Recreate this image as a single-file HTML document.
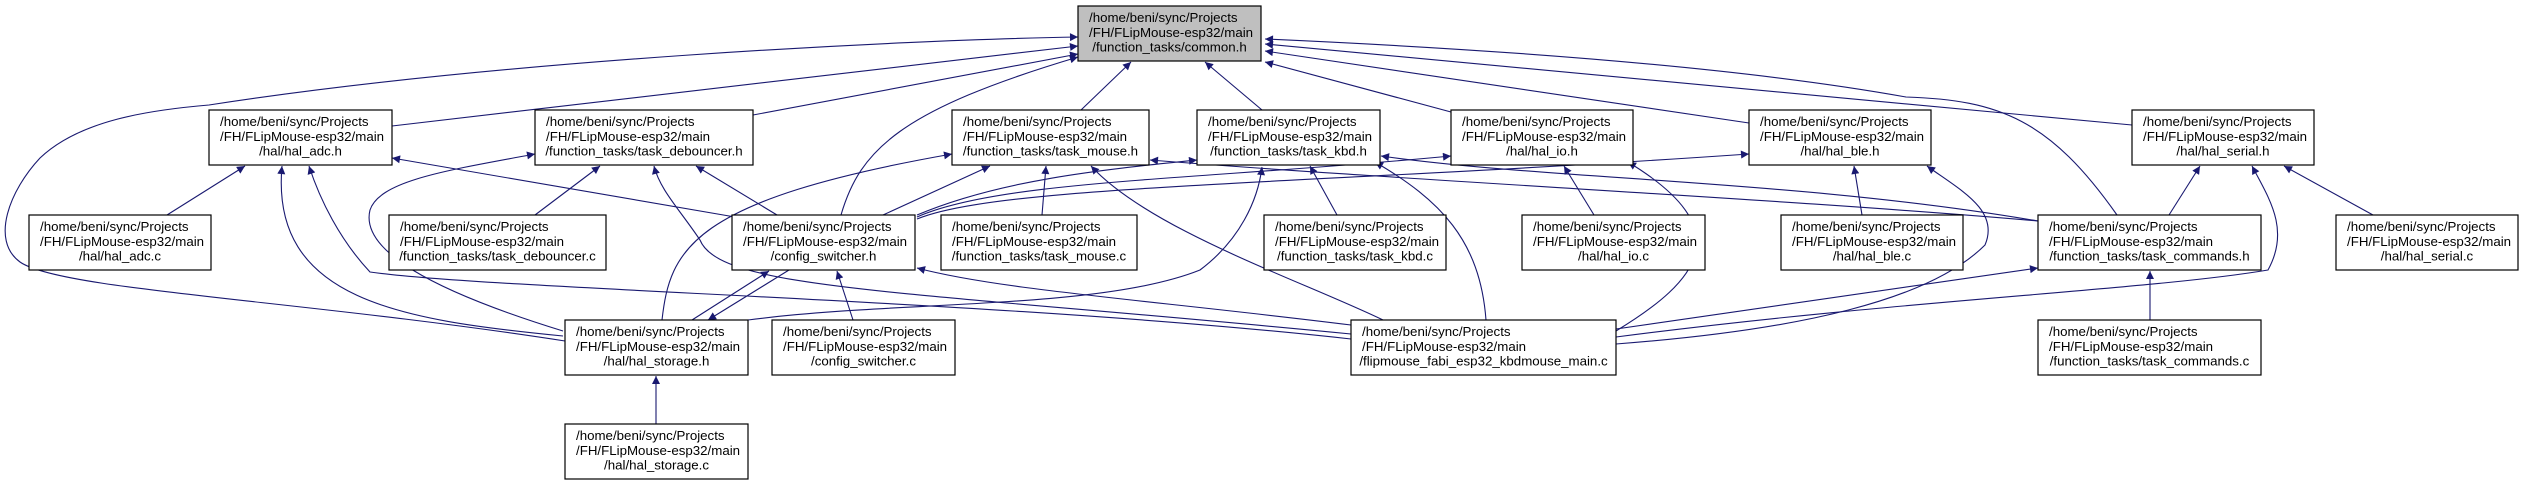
<!DOCTYPE html>
<html><head><meta charset="utf-8"><style>
html,body{margin:0;padding:0;background:#fff;}
svg{display:block;}
text{font-family:"Liberation Sans",sans-serif;font-size:13.3px;fill:#000;}
.e{fill:none;stroke:#191970;stroke-width:1.1;marker-end:url(#a);}
.b{fill:#fff;stroke:#000;stroke-width:1.2;}
</style></head><body>
<svg width="2524" height="483" viewBox="0 0 2524 483" xmlns="http://www.w3.org/2000/svg">
<defs><marker id="a" viewBox="0 0 10 10" refX="10" refY="5" markerWidth="10" markerHeight="8" markerUnits="userSpaceOnUse" orient="auto"><path d="M0,0 L10,5 L0,10 z" fill="#191970"/></marker></defs>

<!-- edges to common.h -->
<path class="e" d="M565,341 C300,300 60,290 20,262 C-10,240 10,190 40,158 C80,120 150,110 209,105 C500,60 900,40 1078,37"/>
<path class="e" d="M392,126 L1078,46"/>
<path class="e" d="M753,115 L1078,54"/>
<path class="e" d="M841,215 C860,150 900,110 1078,57"/>
<path class="e" d="M1081,110 L1131,62"/>
<path class="e" d="M1262,110 L1205,62"/>
<path class="e" d="M1451,112 L1265,62"/>
<path class="e" d="M1749,123 L1265,51"/>
<path class="e" d="M2132,125 L1265,44"/>
<path class="e" d="M2117,215 C2050,120 2000,100 1906,97 C1700,60 1400,45 1265,39"/>

<!-- hal_adc.h -->
<path class="e" d="M167,215 L245,166"/>
<path class="e" d="M563,336 C400,320 270,300 282,166"/>
<path class="e" d="M1351,339 C1000,300 500,290 370,272 C340,240 320,200 309,166"/>
<path class="e" d="M735,217 L392,158"/>

<!-- task_debouncer.h -->
<path class="e" d="M535,215 L600,166"/>
<path class="e" d="M563,331 C430,290 360,250 370,210 C380,180 450,170 535,154"/>
<path class="e" d="M1351,334 C900,290 720,290 700,240 C680,210 660,190 654,166"/>
<path class="e" d="M777,215 L696,166"/>

<!-- config_switcher.h -->
<path class="e" d="M692,320 L769,271"/>
<path class="e" d="M789,270 L708,320"/>
<path class="e" d="M853,320 L837,271"/>
<path class="e" d="M1351,325 C1150,300 1000,290 917,268"/>

<!-- task_mouse.h -->
<path class="e" d="M662,320 C670,250 690,200 952,154"/>
<path class="e" d="M883,215 L990,166"/>
<path class="e" d="M1042,215 L1046,166"/>
<path class="e" d="M1383,320 C1300,280 1150,230 1091,166"/>
<path class="e" d="M2038,221 C1800,200 1400,180 1150,160"/>

<!-- task_kbd.h -->
<path class="e" d="M917,215 C1000,180 1100,170 1197,160"/>
<path class="e" d="M748,320 C900,300 1100,310 1200,270 C1240,240 1258,200 1262,167"/>
<path class="e" d="M1337,215 L1310,166"/>
<path class="e" d="M1486,320 C1480,240 1440,200 1375,162"/>
<path class="e" d="M2038,221 C1800,180 1550,180 1381,156"/>

<!-- hal_io.h -->
<path class="e" d="M917,217 C1000,180 1200,180 1451,156"/>
<path class="e" d="M1594,215 L1564,166"/>
<path class="e" d="M1616,331 C1700,280 1740,230 1628,162"/>

<!-- hal_ble.h -->
<path class="e" d="M917,219 C1000,185 1300,185 1749,154"/>
<path class="e" d="M1862,215 L1854,166"/>
<path class="e" d="M1616,344 C1800,330 1930,300 1985,245 C2000,210 1960,190 1927,166"/>

<!-- hal_serial.h -->
<path class="e" d="M2169,215 L2200,166"/>
<path class="e" d="M2373,215 L2284,166"/>
<path class="e" d="M1616,337 C1900,300 2150,290 2268,270 C2290,230 2270,200 2252,166"/>

<!-- task_commands.h -->
<path class="e" d="M1616,329 L2038,268"/>
<path class="e" d="M2150,320 L2150,271"/>

<!-- hal_storage.c -->
<path class="e" d="M656,424 L656,376"/>

<!-- nodes -->
<g>
<rect x="1078" y="6" width="183" height="55" fill="#bfbfbf" stroke="#000" stroke-width="1.2"/>
<text x="1089" y="22">/home/beni/sync/Projects</text><text x="1089" y="37">/FH/FLipMouse-esp32/main</text><text x="1169.5" y="51.5" text-anchor="middle">/function_tasks/common.h</text>
</g>
<g id="nodes"></g>
<!-- row2 y=110 -->
<rect class="b" x="209" y="110" width="183" height="55"/><text x="220" y="126">/home/beni/sync/Projects</text><text x="220" y="141">/FH/FLipMouse-esp32/main</text><text x="300.5" y="155.5" text-anchor="middle">/hal/hal_adc.h</text>
<rect class="b" x="535" y="110" width="218" height="55"/><text x="546" y="126">/home/beni/sync/Projects</text><text x="546" y="141">/FH/FLipMouse-esp32/main</text><text x="644" y="155.5" text-anchor="middle">/function_tasks/task_debouncer.h</text>
<rect class="b" x="952" y="110" width="197" height="55"/><text x="963" y="126">/home/beni/sync/Projects</text><text x="963" y="141">/FH/FLipMouse-esp32/main</text><text x="1050.5" y="155.5" text-anchor="middle">/function_tasks/task_mouse.h</text>
<rect class="b" x="1197" y="110" width="183" height="55"/><text x="1208" y="126">/home/beni/sync/Projects</text><text x="1208" y="141">/FH/FLipMouse-esp32/main</text><text x="1288.5" y="155.5" text-anchor="middle">/function_tasks/task_kbd.h</text>
<rect class="b" x="1451" y="110" width="182" height="55"/><text x="1462" y="126">/home/beni/sync/Projects</text><text x="1462" y="141">/FH/FLipMouse-esp32/main</text><text x="1542" y="155.5" text-anchor="middle">/hal/hal_io.h</text>
<rect class="b" x="1749" y="110" width="182" height="55"/><text x="1760" y="126">/home/beni/sync/Projects</text><text x="1760" y="141">/FH/FLipMouse-esp32/main</text><text x="1840" y="155.5" text-anchor="middle">/hal/hal_ble.h</text>
<rect class="b" x="2132" y="110" width="182" height="55"/><text x="2143" y="126">/home/beni/sync/Projects</text><text x="2143" y="141">/FH/FLipMouse-esp32/main</text><text x="2223" y="155.5" text-anchor="middle">/hal/hal_serial.h</text>
<!-- row3 y=215 -->
<rect class="b" x="29" y="215" width="182" height="55"/><text x="40" y="231">/home/beni/sync/Projects</text><text x="40" y="246">/FH/FLipMouse-esp32/main</text><text x="120" y="260.5" text-anchor="middle">/hal/hal_adc.c</text>
<rect class="b" x="389" y="215" width="217" height="55"/><text x="400" y="231">/home/beni/sync/Projects</text><text x="400" y="246">/FH/FLipMouse-esp32/main</text><text x="497.5" y="260.5" text-anchor="middle">/function_tasks/task_debouncer.c</text>
<rect class="b" x="732" y="215" width="183" height="55"/><text x="743" y="231">/home/beni/sync/Projects</text><text x="743" y="246">/FH/FLipMouse-esp32/main</text><text x="823.5" y="260.5" text-anchor="middle">/config_switcher.h</text>
<rect class="b" x="941" y="215" width="196" height="55"/><text x="952" y="231">/home/beni/sync/Projects</text><text x="952" y="246">/FH/FLipMouse-esp32/main</text><text x="1039" y="260.5" text-anchor="middle">/function_tasks/task_mouse.c</text>
<rect class="b" x="1264" y="215" width="182" height="55"/><text x="1275" y="231">/home/beni/sync/Projects</text><text x="1275" y="246">/FH/FLipMouse-esp32/main</text><text x="1355" y="260.5" text-anchor="middle">/function_tasks/task_kbd.c</text>
<rect class="b" x="1522" y="215" width="183" height="55"/><text x="1533" y="231">/home/beni/sync/Projects</text><text x="1533" y="246">/FH/FLipMouse-esp32/main</text><text x="1613.5" y="260.5" text-anchor="middle">/hal/hal_io.c</text>
<rect class="b" x="1781" y="215" width="182" height="55"/><text x="1792" y="231">/home/beni/sync/Projects</text><text x="1792" y="246">/FH/FLipMouse-esp32/main</text><text x="1872" y="260.5" text-anchor="middle">/hal/hal_ble.c</text>
<rect class="b" x="2038" y="215" width="223" height="55"/><text x="2049" y="231">/home/beni/sync/Projects</text><text x="2049" y="246">/FH/FLipMouse-esp32/main</text><text x="2149.5" y="260.5" text-anchor="middle">/function_tasks/task_commands.h</text>
<rect class="b" x="2336" y="215" width="182" height="55"/><text x="2347" y="231">/home/beni/sync/Projects</text><text x="2347" y="246">/FH/FLipMouse-esp32/main</text><text x="2427" y="260.5" text-anchor="middle">/hal/hal_serial.c</text>
<!-- row4 y=320 -->
<rect class="b" x="565" y="320" width="183" height="55"/><text x="576" y="336">/home/beni/sync/Projects</text><text x="576" y="351">/FH/FLipMouse-esp32/main</text><text x="656.5" y="365.5" text-anchor="middle">/hal/hal_storage.h</text>
<rect class="b" x="772" y="320" width="183" height="55"/><text x="783" y="336">/home/beni/sync/Projects</text><text x="783" y="351">/FH/FLipMouse-esp32/main</text><text x="863.5" y="365.5" text-anchor="middle">/config_switcher.c</text>
<rect class="b" x="1351" y="320" width="265" height="55"/><text x="1362" y="336">/home/beni/sync/Projects</text><text x="1362" y="351">/FH/FLipMouse-esp32/main</text><text x="1483.5" y="365.5" text-anchor="middle">/flipmouse_fabi_esp32_kbdmouse_main.c</text>
<rect class="b" x="2038" y="320" width="223" height="55"/><text x="2049" y="336">/home/beni/sync/Projects</text><text x="2049" y="351">/FH/FLipMouse-esp32/main</text><text x="2149.5" y="365.5" text-anchor="middle">/function_tasks/task_commands.c</text>
<!-- row5 -->
<rect class="b" x="565" y="424" width="183" height="55"/><text x="576" y="440">/home/beni/sync/Projects</text><text x="576" y="455">/FH/FLipMouse-esp32/main</text><text x="656.5" y="469.5" text-anchor="middle">/hal/hal_storage.c</text>
</svg>
</body></html>
